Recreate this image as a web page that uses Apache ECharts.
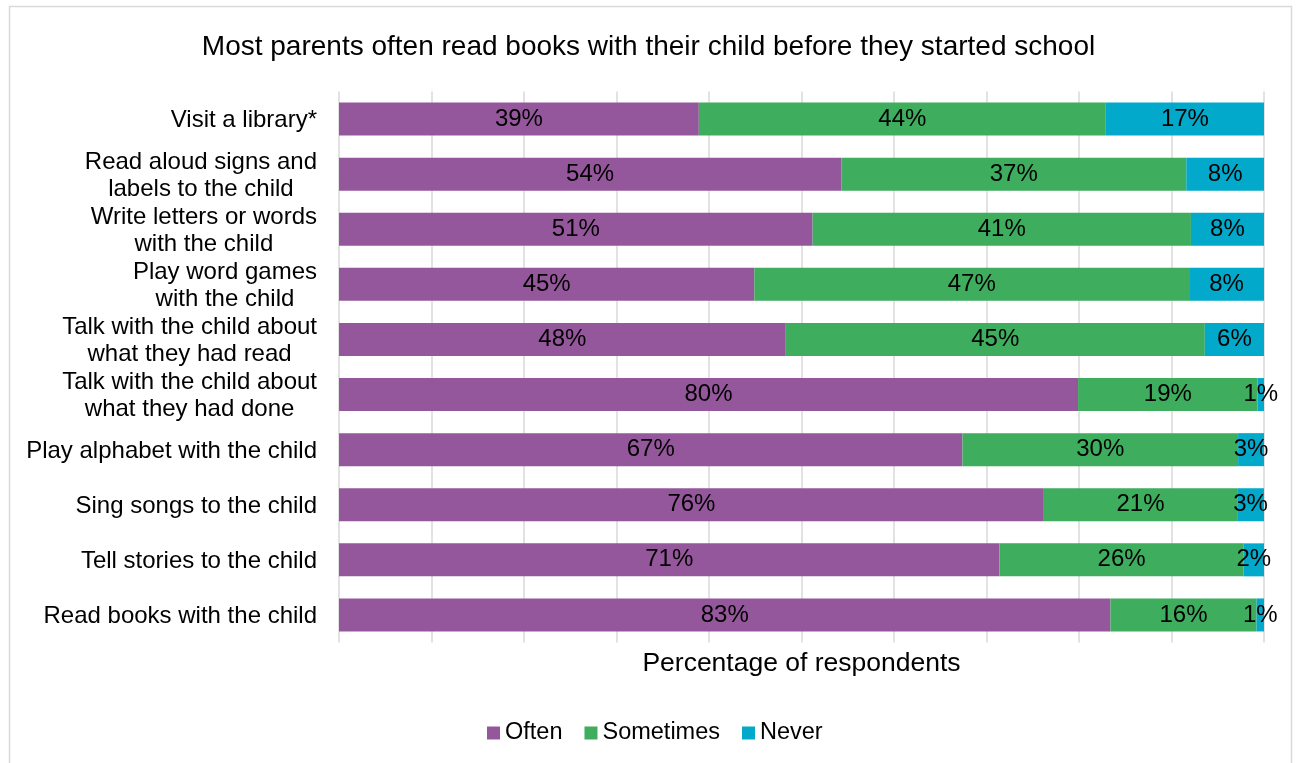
<!DOCTYPE html>
<html>
<head>
<meta charset="utf-8">
<script src="https://cdn.jsdelivr.net/npm/echarts@6/dist/echarts.min.js"></script>
<style>
  html, body { margin: 0; padding: 0; background: #fff; }
  #chart { width: 1297px; height: 763px; }
</style>
</head>
<body>
<div id="chart"></div>
<script>
// Activities, listed top to bottom
const activities = [
  'Visit a library*',
  'Read aloud signs and\nlabels to the child',
  'Write letters or words\nwith the child',
  'Play word games\nwith the child',
  'Talk with the child about\nwhat they had read',
  'Talk with the child about\nwhat they had done',
  'Play alphabet with the child',
  'Sing songs to the child',
  'Tell stories to the child',
  'Read books with the child'
];

// Share of respondents (%) for each answer
const often     = [38.9, 54.3, 51.2, 44.9, 48.3, 79.9, 67.4, 76.2, 71.4, 83.4];
const sometimes = [44.0, 37.3, 40.9, 47.0, 45.3, 19.4, 29.8, 20.9, 26.4, 15.8];
const never     = [17.1,  8.4,  7.9,  8.1,  6.4,  0.7,  2.8,  2.9,  2.2,  0.8];

const seriesNames = ['Often', 'Sometimes', 'Never'];
const seriesColors = ['#95579B', '#3EAD5E', '#02A9CA'];
const seriesData = [often, sometimes, never];

const FONT = 'Liberation Sans, Arial, sans-serif';

const chart = echarts.init(document.getElementById('chart'));

chart.setOption({
  animation: false,
  backgroundColor: '#ffffff',
  textStyle: { fontFamily: FONT },
  graphic: [{
    type: 'rect',
    shape: { x: 9.5, y: 6.5, width: 1282, height: 800 },
    style: { fill: 'none', stroke: '#D9D9D9', lineWidth: 1.5 },
    silent: true
  }],
  title: {
    text: 'Most parents often read books with their child before they started school',
    left: 'center',
    top: 28,
    textStyle: { fontFamily: FONT, fontSize: 28, fontWeight: 'normal', color: '#000' }
  },
  legend: {
    bottom: 13,
    left: 482,
    itemWidth: 13,
    itemHeight: 13,
    itemGap: 22,
    icon: 'rect',
    textStyle: { fontFamily: FONT, fontSize: 23.5, color: '#000' },
    data: seriesNames
  },
  grid: {
    left: 339,
    right: 33,
    top: 91.5,
    height: 551,
    containLabel: false
  },
  xAxis: {
    type: 'value',
    min: 0,
    max: 100,
    interval: 10,
    name: 'Percentage of respondents',
    nameLocation: 'middle',
    nameGap: 8,
    nameTextStyle: { fontFamily: FONT, fontSize: 26.5, color: '#000' },
    axisLine: { show: false },
    axisTick: { show: false },
    axisLabel: { show: false },
    splitLine: { show: true, lineStyle: { color: '#D9D9D9', width: 1.5 } }
  },
  yAxis: {
    type: 'category',
    inverse: true,
    data: activities,
    axisLine: { show: false },
    axisTick: { show: false },
    axisLabel: {
      margin: 22,
      align: 'right',
      fontFamily: FONT,
      fontSize: 24,
      color: '#000',
      lineHeight: 27,
      formatter: v => '{c|' + v + '}',
      rich: {
        c: { align: 'center', fontFamily: FONT, fontSize: 24, color: '#000', lineHeight: 27, padding: [3, 0, 0, 0] }
      }
    }
  },
  series: seriesNames.map((name, i) => ({
    name: name,
    type: 'bar',
    stack: 'total',
    barWidth: 33,
    data: seriesData[i],
    itemStyle: { color: seriesColors[i] },
    label: {
      show: true,
      position: 'inside',
      fontFamily: FONT,
      fontSize: 24,
      color: '#000',
      padding: [3, 0, 0, 0],
      formatter: p => Math.round(p.value) + '%'
    }
  }))
});
</script>
</body>
</html>
